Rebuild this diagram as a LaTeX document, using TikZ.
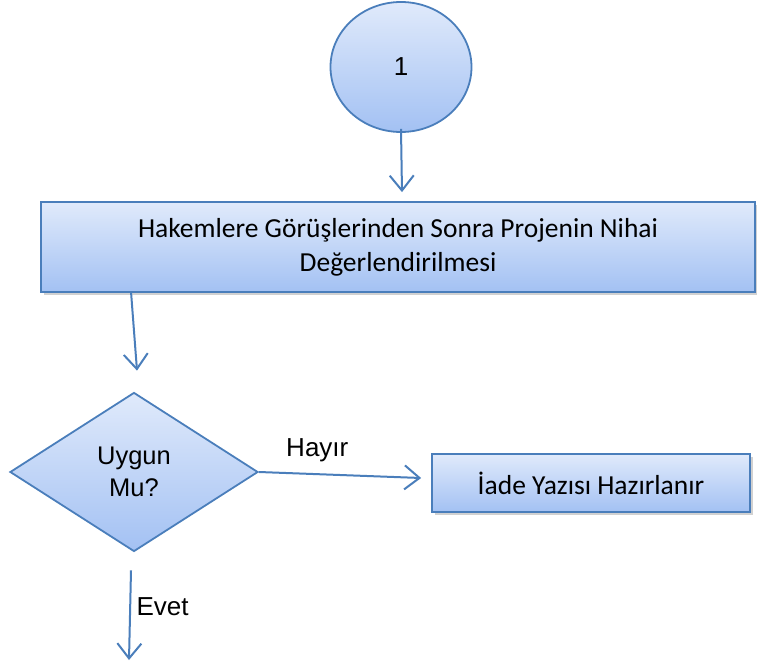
\documentclass[tikz,border=0pt]{standalone}
\usepackage{fontspec}
\setmainfont{Liberation Sans}
\newfontfamily\calibri{Carlito}
\usetikzlibrary{positioning,shapes.geometric,arrows.meta,shadows}
\definecolor{boxline}{HTML}{4A7EBB}
\definecolor{boxtop}{HTML}{E0EAFB}
\definecolor{boxbottom}{HTML}{A3C1F3}

\begin{document}
\begin{tikzpicture}[x=1pt,y=-1pt]
        \tikzstyle{filled} = [draw=boxline, line width=1.8pt, top color=boxtop, bottom color=boxbottom]
        \tikzstyle{rect} = [filled, rectangle, font=\calibri\fontsize{27.5}{34}\selectfont, align=center,
            drop shadow={shadow xshift=3pt, shadow yshift=-3pt, opacity=0.3, fill=black!60}]
        \tikzstyle{link} = [draw=boxline, line width=2pt, -{Straight Barb[length=15pt, width=24pt, line width=2pt]}]
        \tikzstyle{lbl} = [font=\fontsize{26}{30}\selectfont]
        \useasboundingbox (0,0) rectangle (757,666);

        \node (one) [filled, ellipse, minimum width=141pt, minimum height=130pt, lbl] at (401,67) {1};
        \node (hakem) [rect, minimum width=714pt, minimum height=90pt] at (398,247)
            {Hakemlere Görüşlerinden Sonra Projenin Nihai\\Değerlendirilmesi};
        \node (uygun) [filled, diamond, minimum width=248pt, minimum height=159pt, inner sep=0pt,
            align=center, font=\fontsize{25.5}{32}\selectfont] at (134,472) {Uygun\\Mu?};
        \node (iade) [rect, minimum width=318pt, minimum height=58pt] at (591,483) {İade Yazısı Hazırlanır};
        \coordinate (evetend) at (129,660);

        \draw[link] ([yshift=4pt]one.south) -- ([xshift=4pt, yshift=9pt]hakem.north);
        \draw[link] ([xshift=91pt]hakem.south west) -- ([xshift=3pt, yshift=21pt]uygun.north);
        \draw[link] (uygun.east) -- node[lbl, above=8pt, pos=0.36] (hayir) {Hayır} ([xshift=-10pt, yshift=5pt]iade.west);
        \draw[link] ([xshift=-3pt, yshift=-18pt]uygun.south) -- node[lbl, right=2pt, pos=0.4] (evet) {Evet} (evetend);
    \end{tikzpicture}
\end{document}
